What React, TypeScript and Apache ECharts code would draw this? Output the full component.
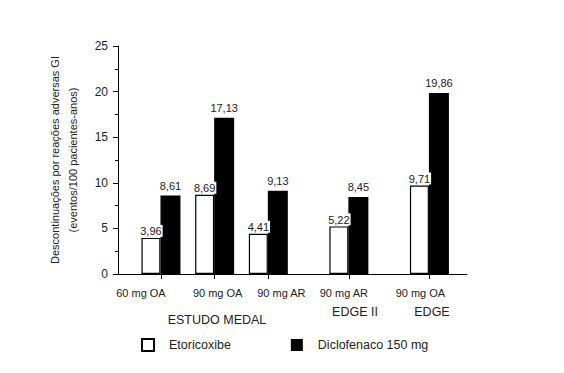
import React, { useEffect, useRef } from "react";
import * as echarts from "echarts";

const categories = ["60 mg OA", "90 mg OA", "90 mg AR", "90 mg AR", "90 mg OA"];
const groupPos = [1, 2, 3, 4.5, 6];
const etoricoxibe = [3.96, 8.69, 4.41, 5.22, 9.71];
const diclofenaco = [8.61, 17.13, 9.13, 8.45, 19.86];
const seriesNames = ["Etoricoxibe", "Diclofenaco 150 mg"];
const studies = ["ESTUDO MEDAL", "EDGE II", "EDGE"];
const yTitle = ["Descontinuações por reações adversas GI", "(eventos/100 pacientes-anos)"];

// label horizontal nudges (px) to match the reference's label placement
const labelNudge = [-20, 3, 13, -5, -9];

const FONT = "'Liberation Sans', Arial, sans-serif";
const fmt = (v: number) => v.toFixed(2).replace(".", ",");

export default function App() {
  const ref = useRef<HTMLDivElement>(null);
  useEffect(() => {
    if (!ref.current) return;
    const chart = echarts.init(ref.current, null, { renderer: "svg" });
    const rich: Record<string, any> = {};
    labelNudge.forEach((n, i) => {
      rich["c" + i] = {
        fontSize: 11,
        fontFamily: FONT,
        color: "#222",
        padding: n < 0 ? [0, -2 * n, 0, 0] : [0, 0, 0, 2 * n],
      };
    });
    const nearestIdx = (v: number) => {
      let best = 0;
      groupPos.forEach((p, i) => {
        if (Math.abs(p - v) < Math.abs(groupPos[best] - v)) best = i;
      });
      return best;
    };
    const groupText = (text: string, x: number, y: number) => ({
      type: "text",
      x,
      y,
      style: { text, fontSize: 12.5, fill: "#222", fontFamily: FONT, align: "center", verticalAlign: "middle" },
    });
    chart.setOption({
      animation: false,
      textStyle: { fontFamily: FONT },
      grid: { left: 110, right: 89, top: 38, bottom: 91 },
      legend: {
        left: 133,
        top: 330,
        padding: 0,
        itemWidth: 12,
        itemHeight: 12,
        itemGap: 60,
        icon: "rect",
        data: seriesNames,
        textStyle: { fontSize: 12.5, color: "#222", fontFamily: FONT, padding: [0, 0, 0, 10] },
      },
      xAxis: {
        type: "value",
        min: 0.2,
        max: 6.7,
        splitLine: { show: false },
        axisLine: { show: true, lineStyle: { color: "#000", width: 1 } },
        axisTick: { show: true, customValues: groupPos, length: 5, lineStyle: { color: "#000" } },
        axisLabel: {
          customValues: groupPos,
          margin: 13,
          formatter: (v: number) => {
            const i = nearestIdx(v);
            return "{c" + i + "|" + categories[i] + "}";
          },
          rich,
        },
      },
      yAxis: {
        type: "value",
        min: 0,
        max: 25,
        interval: 5,
        name: yTitle.join("\n"),
        nameLocation: "middle",
        nameRotate: 90,
        nameGap: 36,
        nameTextStyle: { fontSize: 11, color: "#222", lineHeight: 18, fontFamily: FONT },
        splitLine: { show: false },
        axisLine: { show: true, lineStyle: { color: "#000", width: 1 } },
        axisTick: { show: true, length: 5, lineStyle: { color: "#000" } },
        minorTick: { show: true, splitNumber: 2, length: 3, lineStyle: { color: "#000" } },
        axisLabel: { fontSize: 12, color: "#222", margin: 10, fontFamily: FONT },
      },
      series: [
        {
          name: seriesNames[0],
          type: "bar",
          barWidth: 19,
          barGap: "0%",
          data: groupPos.map((x, i) => [x, etoricoxibe[i]]),
          itemStyle: { color: "#fff", borderColor: "#000", borderWidth: 1.2 },
          label: {
            show: true,
            position: "top",
            distance: 1,
            fontSize: 11,
            color: "#222",
            backgroundColor: "#fff",
            padding: [1, 1, 0, 1],
            formatter: (p: any) => fmt(p.value[1]),
          },
        },
        {
          name: seriesNames[1],
          type: "bar",
          barWidth: 20,
          barGap: "0%",
          data: groupPos.map((x, i) => [x, diclofenaco[i]]),
          itemStyle: { color: "#000" },
          label: {
            show: true,
            position: "top",
            distance: 4,
            fontSize: 11,
            color: "#222",
            formatter: (p: any) => fmt(p.value[1]),
          },
        },
      ],
      graphic: [
        groupText(studies[0], 209, 312),
        groupText(studies[1], 347, 304),
        groupText(studies[2], 424, 304),
      ],
    });
    return () => chart.dispose();
  }, []);
  return <div ref={ref} style={{ width: 548, height: 357 }} />;
}
